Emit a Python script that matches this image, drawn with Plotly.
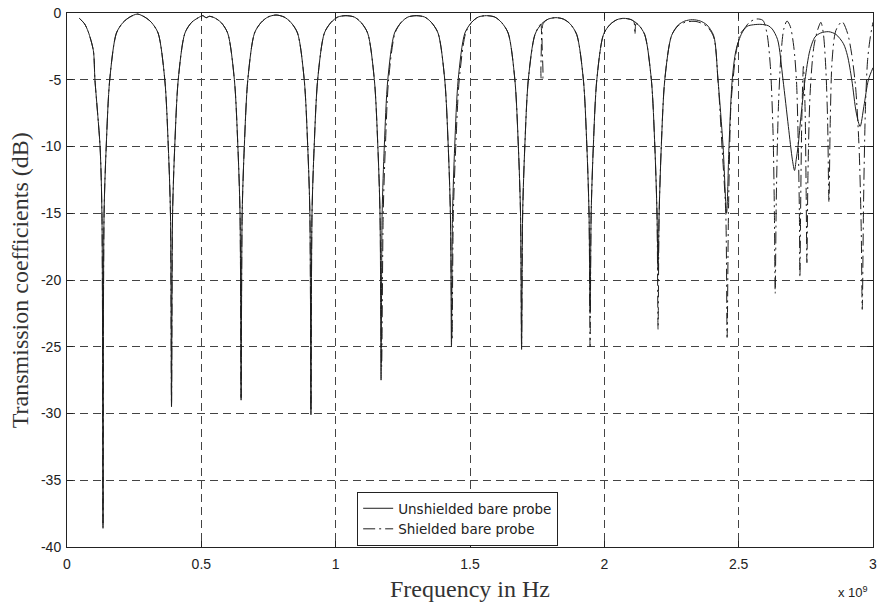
import plotly.graph_objects as go

# ---------------- data ----------------
# frequency in GHz (axis shows x 10^9 Hz), transmission in dB
freq_unshielded = [
    0.046, 0.065, 0.079, 0.098, 0.104, 0.123, 0.130, 0.134,
    0.138, 0.146, 0.159, 0.184, 0.209, 0.234, 0.262, 0.289, 0.314, 0.339, 0.364, 0.377, 0.385, 0.389,
    0.393, 0.401, 0.414, 0.439, 0.464, 0.489, 0.505, 0.518, 0.530, 0.548, 0.573, 0.598, 0.623, 0.636, 0.644, 0.648,
    0.652, 0.660, 0.673, 0.698, 0.723, 0.748, 0.778, 0.808, 0.833, 0.858, 0.883, 0.896, 0.904, 0.908,
    0.912, 0.920, 0.933, 0.958, 0.983, 1.008, 1.038, 1.069, 1.094, 1.119, 1.144, 1.157, 1.165, 1.169,
    1.173, 1.181, 1.194, 1.219, 1.244, 1.269, 1.300, 1.331, 1.356, 1.381, 1.406, 1.419, 1.427, 1.431,
    1.435, 1.443, 1.456, 1.481, 1.506, 1.531, 1.561, 1.592, 1.617, 1.642, 1.667, 1.680, 1.688, 1.692,
    1.696, 1.704, 1.717, 1.742, 1.767, 1.792, 1.820, 1.847, 1.872, 1.897, 1.922, 1.935, 1.943, 1.947,
    1.951, 1.959, 1.972, 1.997, 2.022, 2.047, 2.073, 2.100, 2.125, 2.150, 2.175, 2.188, 2.196, 2.200,
    2.204, 2.212, 2.225, 2.250, 2.275, 2.300, 2.328, 2.357, 2.382, 2.407, 2.423, 2.442, 2.455,
    2.464, 2.476, 2.490, 2.512, 2.531, 2.555, 2.583, 2.610, 2.625, 2.645, 2.665, 2.685, 2.700, 2.708,
    2.714, 2.721, 2.733, 2.747, 2.765, 2.784, 2.805, 2.835, 2.862, 2.890, 2.905, 2.921, 2.938, 2.952,
    2.966, 2.983, 3.000,
]
db_unshielded = [
    -0.4, -0.8, -1.4, -2.8, -5, -10, -15, -38.6,
    -15, -10, -5, -1.5, -0.7, -0.3, -0.08, -0.3, -0.7, -1.5, -5, -10, -15, -29.5,
    -15, -10, -5, -1.5, -0.7, -0.35, -0.2, -0.35, -0.25, -0.35, -0.7, -1.5, -5, -10, -15, -29.0,
    -15, -10, -5, -1.5, -0.7, -0.3, -0.15, -0.3, -0.7, -1.5, -5, -10, -15, -30.1,
    -15, -10, -5, -1.5, -0.7, -0.3, -0.2, -0.3, -0.7, -1.5, -5, -10, -15, -27.5,
    -15, -10, -5, -1.5, -0.7, -0.3, -0.2, -0.3, -0.7, -1.5, -5, -10, -15, -25.0,
    -15, -10, -5, -1.5, -0.7, -0.3, -0.2, -0.3, -0.7, -1.5, -5, -10, -15, -25.2,
    -15, -10, -5, -1.6, -0.8, -0.45, -0.35, -0.45, -0.8, -1.6, -5, -10, -15, -22.5,
    -15, -10, -5, -1.6, -0.85, -0.5, -0.4, -0.5, -0.85, -1.6, -5, -10, -15, -19.3,
    -15, -10, -5, -1.7, -0.9, -0.6, -0.5, -0.6, -0.9, -1.7, -5, -10, -15.0,
    -10, -5, -2.8, -1.5, -1.0, -0.88, -0.85, -0.95, -1.2, -2.0, -5, -8.5, -11, -11.8,
    -11, -10, -7.5, -5, -2.8, -1.8, -1.5, -1.4, -1.6, -2.3, -3.2, -5, -7.5, -8.5,
    -7, -5, -4.1,
]

freq_shielded = [
    0.046, 0.065, 0.079, 0.098, 0.104, 0.123, 0.130, 0.134,
    0.138, 0.146, 0.159, 0.184, 0.209, 0.234, 0.262, 0.289, 0.314, 0.339, 0.364, 0.377, 0.385, 0.389,
    0.393, 0.401, 0.414, 0.439, 0.464, 0.489, 0.505, 0.518, 0.530, 0.548, 0.573, 0.598, 0.623, 0.636, 0.644, 0.648,
    0.652, 0.660, 0.673, 0.698, 0.723, 0.748, 0.778, 0.808, 0.833, 0.858, 0.883, 0.896, 0.904, 0.908,
    0.912, 0.920, 0.933, 0.958, 0.983, 1.008, 1.038, 1.069, 1.094, 1.119, 1.144, 1.157, 1.165, 1.171,
    1.177, 1.185, 1.197, 1.221, 1.244, 1.269, 1.300, 1.331, 1.356, 1.381, 1.406, 1.419, 1.427, 1.433,
    1.438, 1.447, 1.460, 1.484, 1.506, 1.531, 1.561, 1.592, 1.617, 1.642, 1.667, 1.680, 1.688, 1.692,
    1.696, 1.704, 1.717, 1.742, 1.763, 1.766, 1.770, 1.772, 1.792, 1.820, 1.847, 1.872, 1.897, 1.922,
    1.935, 1.943, 1.947,
    1.951, 1.959, 1.972, 1.997, 2.022, 2.047, 2.073, 2.100, 2.110, 2.114, 2.118, 2.128, 2.150, 2.175,
    2.188, 2.196, 2.200,
    2.204, 2.212, 2.225, 2.250, 2.275, 2.300, 2.330, 2.345, 2.360, 2.382, 2.407, 2.423, 2.438, 2.452,
    2.457,
    2.462, 2.471, 2.479, 2.490, 2.505, 2.520, 2.540, 2.565, 2.590, 2.605, 2.618, 2.628, 2.633, 2.636,
    2.640, 2.648, 2.658, 2.668, 2.680, 2.692, 2.705, 2.715, 2.722, 2.726, 2.728, 2.731, 2.735, 2.741,
    2.747, 2.751, 2.754, 2.758, 2.766, 2.780, 2.795, 2.806, 2.815, 2.824, 2.831, 2.836, 2.841, 2.848,
    2.862, 2.885, 2.905, 2.920, 2.935, 2.948, 2.956, 2.960, 2.965, 2.972, 2.980, 2.990, 3.000,
]
db_shielded = [
    -0.4, -0.8, -1.4, -2.8, -5, -10, -15, -38.2,
    -15, -10, -5, -1.5, -0.7, -0.3, -0.08, -0.3, -0.7, -1.5, -5, -10, -15, -29.3,
    -15, -10, -5, -1.5, -0.7, -0.35, -0.2, -0.35, -0.25, -0.35, -0.7, -1.5, -5, -10, -15, -28.8,
    -15, -10, -5, -1.5, -0.7, -0.3, -0.15, -0.3, -0.7, -1.5, -5, -10, -15, -29.8,
    -15, -10, -5, -1.5, -0.7, -0.3, -0.2, -0.3, -0.7, -1.5, -5, -10, -15, -26.5,
    -15, -10, -5, -1.5, -0.7, -0.3, -0.2, -0.3, -0.7, -1.5, -5, -10, -15, -24.5,
    -15, -10, -5, -1.5, -0.7, -0.3, -0.2, -0.3, -0.7, -1.5, -5, -10, -15, -24.8,
    -15, -10, -5, -1.6, -0.85, -5, -5, -0.8, -0.45, -0.35, -0.45, -0.8, -1.6, -5,
    -10, -15, -25.0,
    -15, -10, -5, -1.6, -0.85, -0.5, -0.4, -0.5, -0.65, -1.6, -0.8, -0.9, -1.6, -5,
    -10, -15, -23.7,
    -15, -10, -5, -1.7, -0.95, -0.7, -0.62, -0.65, -0.75, -1.0, -1.8, -5, -10, -15,
    -24.3,
    -15, -7, -5, -3, -1.6, -1.2, -0.7, -0.45, -0.55, -1.5, -4, -9, -15, -21,
    -14, -7, -3, -1.2, -0.6, -1.0, -2.5, -5, -10, -15, -19.8, -14, -8, -4,
    -7, -13, -18.7, -12, -6, -2.5, -1.2, -0.7, -1.5, -4, -8, -14.2, -8, -3.5,
    -1.3, -0.65, -1.5, -3, -5.5, -10, -16, -22.2, -14, -7, -3.5, -1.8, -0.7,
]

series_names = ["Unshielded bare probe", "Shielded bare probe"]
x_tick_values = [0, 0.5, 1, 1.5, 2, 2.5, 3]
x_tick_labels = ["0", "0.5", "1", "1.5", "2", "2.5", "3"]
y_tick_values = [0, -5, -10, -15, -20, -25, -30, -35, -40]

assert len(freq_unshielded) == len(db_unshielded)
assert len(freq_shielded) == len(db_shielded)

# ---------------- figure ----------------
LINE = "#1e1e1e"
fig = go.Figure()
fig.add_trace(go.Scatter(
    x=freq_unshielded, y=db_unshielded, mode="lines", name=series_names[0],
    line=dict(color=LINE, width=1, shape="spline", smoothing=0.8),
))
fig.add_trace(go.Scatter(
    x=freq_shielded, y=db_shielded, mode="lines", name=series_names[1],
    line=dict(color=LINE, width=1, dash="12px,4px,2px,4px", shape="spline", smoothing=0.8),
))

tick_font = dict(family="Liberation Sans, Arial, sans-serif", size=14, color="#222")
axis_common = dict(
    showline=True, linecolor="#222", linewidth=1, mirror="ticks",
    ticks="inside", ticklen=6, tickcolor="#222",
    showgrid=True, gridcolor="#444", gridwidth=1, griddash="8px,5px",
    zeroline=False, tickfont=tick_font, automargin=False,
    ticklabeloverflow="allow",
)
fig.update_xaxes(range=[0, 3], tickmode="array", tickvals=x_tick_values,
                 ticktext=x_tick_labels, ticklabelstandoff=4, **axis_common)
fig.update_yaxes(range=[-40, 0], tickmode="array", tickvals=y_tick_values,
                 ticktext=[str(v) for v in y_tick_values], ticklabelstandoff=2, **axis_common)

title_font = dict(family="Liberation Serif, Times New Roman, serif", size=24, color="#333")
fig.add_annotation(text="Frequency in Hz", xref="paper", yref="paper", x=0.5, y=-0.079,
                   xanchor="center", yanchor="middle", showarrow=False, font=title_font)
fig.add_annotation(text="Transmission coefficients (dB)", xref="paper", yref="paper",
                   x=-0.058, y=0.5, xanchor="center", yanchor="middle", textangle=-90,
                   showarrow=False, font=title_font)
fig.add_annotation(text="x 10<sup>9</sup>", xref="paper", yref="paper", x=0.954, y=-0.084,
                   xanchor="left", yanchor="middle", showarrow=False,
                   font=dict(family="Liberation Sans, Arial, sans-serif", size=13, color="#222"))

fig.update_layout(
    template="none",
    width=878, height=607,
    margin=dict(l=67, r=5, t=13, b=60, autoexpand=False),
    paper_bgcolor="white", plot_bgcolor="white",
    showlegend=True,
    legend=dict(x=0.36, y=0.103, xanchor="left", yanchor="top",
                bgcolor="white", bordercolor="#222", borderwidth=1,
                font=dict(family="DejaVu Sans, sans-serif", size=13.5, color="#222"),
                itemwidth=30, tracegroupgap=0),
)

fig.write_html(
    "out.html",
    config={"displayModeBar": False},
    post_script="document.body.style.margin='0px';document.body.style.overflow='hidden';",
)
